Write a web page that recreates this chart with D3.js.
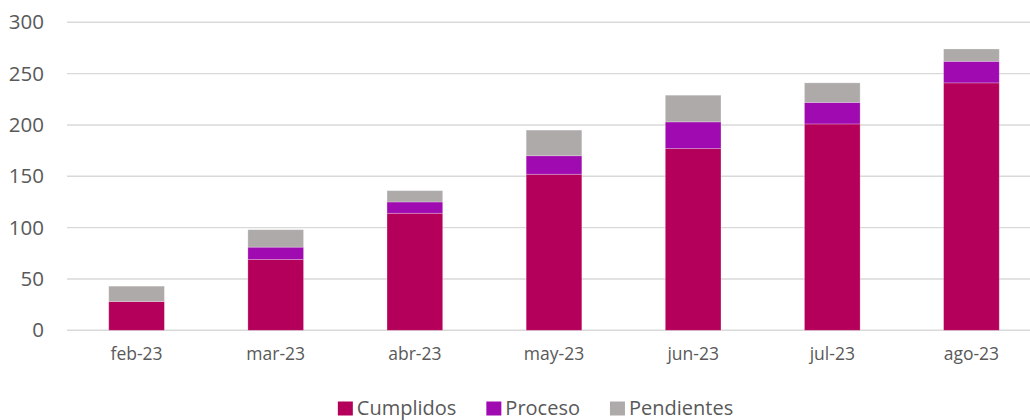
<html>
    <head>
        <meta charset="utf-8" />
        <title>Cumplidos / Proceso / Pendientes</title>
        <script src="https://d3js.org/d3.v7.min.js"></script>
        <style>
            body {
                margin: 0px;
                background: #ffffff;
            }
            .tick text {
                fill: #595959;
                font-family: "Open Sans", sans-serif;
            }
            .legend text {
                fill: #595959;
                font-family: "Open Sans", sans-serif;
                font-size: 20px;
            }
        </style>
    </head>
    <body>
        <div id="chart"></div>
        <script type="text/javascript">
            // monthly values
            var months = ["feb-23", "mar-23", "abr-23", "may-23", "jun-23", "jul-23", "ago-23"];
            var cumplidos = [28, 69, 114, 152, 177, 201, 241];
            var proceso = [0, 12, 11, 18, 26, 21, 21];
            var pendientes = [15, 17, 11, 25, 26, 19, 12];
            var seriesNames = ["Cumplidos", "Proceso", "Pendientes"];
            var yTicks = [0, 50, 100, 150, 200, 250, 300];

            var colors = ["#B4005A", "#9F0BB0", "#AEAAAA"];

            var width = 1030;
            var height = 420;

            // table for d3.stack
            var table = months.map((m, i) => ({
                month: m,
                Cumplidos: cumplidos[i],
                Proceso: proceso[i],
                Pendientes: pendientes[i]
            }));

            var svg = d3.select("#chart").append("svg")
                .attr("width", width)
                .attr("height", height);

            // plot area runs past the right edge, like the cropped original
            var x = d3.scaleBand()
                .domain(months)
                .range([67, 1041])
                .paddingInner(0.6)
                .paddingOuter(0.3);

            var y = d3.scaleLinear()
                .domain([0, 300])
                .range([330.3, 22.3]);

            // gridlines
            svg.append("g")
                .selectAll("line")
                .data(yTicks)
                .enter()
                .append("line")
                    .attr("x1", 67)
                    .attr("x2", 1041)
                    .attr("y1", d => y(d))
                    .attr("y2", d => y(d))
                    .attr("stroke", "#D9D9D9")
                    .attr("stroke-width", 1.4);

            // y axis labels
            var yAxis = svg.append("g")
                .attr("transform", "translate(52,0)")
                .call(d3.axisLeft(y).tickValues(yTicks).tickSize(0).tickPadding(8));
            yAxis.select(".domain").remove();
            yAxis.selectAll(".tick text")
                .style("font-size", "20.5px");

            // x axis labels
            var xAxis = svg.append("g")
                .attr("transform", "translate(0," + y(0) + ")")
                .call(d3.axisBottom(x).tickSize(0).tickPadding(17));
            xAxis.select(".domain").remove();
            xAxis.selectAll(".tick text")
                .style("font-size", "17.5px");

            // stacked bars
            var stacked = d3.stack().keys(seriesNames)(table);

            svg.append("g")
                .selectAll("g")
                .data(stacked)
                .enter()
                .append("g")
                    .attr("fill", (d, i) => colors[i])
                .selectAll("rect")
                .data(d => d)
                .enter()
                .append("rect")
                    .attr("x", d => x(d.data.month))
                    .attr("y", d => y(d[1]))
                    .attr("width", x.bandwidth())
                    .attr("height", d => y(d[0]) - y(d[1]))
                    .attr("stroke", "rgba(255,255,255,0.3)")
                    .attr("stroke-width", 0.8);

            // legend
            var legend = svg.append("g")
                .attr("class", "legend");

            var items = legend.selectAll("g")
                .data(seriesNames)
                .enter()
                .append("g");

            items.append("rect")
                .attr("width", 15)
                .attr("height", 14)
                .attr("y", 401.5)
                .attr("fill", (d, i) => colors[i]);

            items.append("text")
                .attr("x", 19)
                .attr("y", 414.5)
                .text(d => d);

            var offset = 0;
            var offsets = [];
            items.each(function(d) {
                var w = d3.select(this).select("text").node().getComputedTextLength();
                offsets.push(offset);
                offset += 19 + w + 30;
            });
            var legendWidth = offset - 30;
            var legendStart = 535.5 - legendWidth / 2;
            items.attr("transform", (d, i) => "translate(" + (legendStart + offsets[i]) + ",0)");
        </script>
    </body>
</html>
